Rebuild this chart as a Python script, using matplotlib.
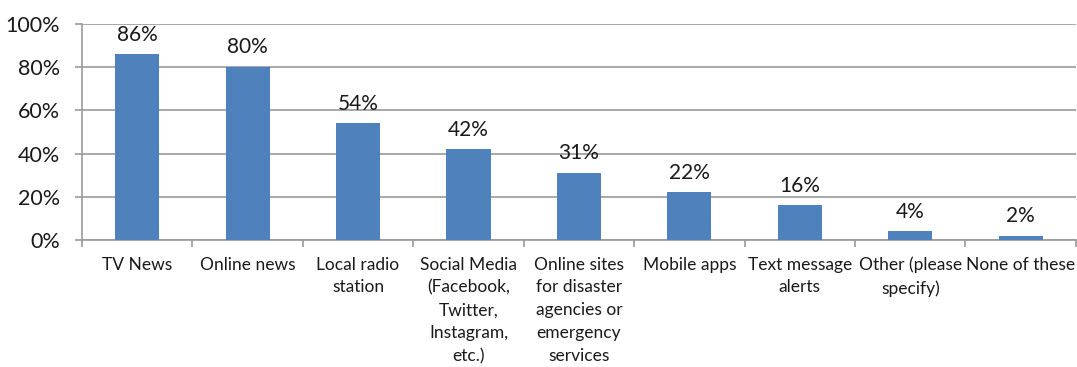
import numpy as np
import matplotlib
matplotlib.use("Agg")
import matplotlib.pyplot as plt

plt.rcParams['font.family'] = ['Lato', 'DejaVu Sans']

categories = ["TV News", "Online news", "Local radio\nstation",
              "Social Media\n(Facebook,\nTwitter,\nInstagram,\netc.)",
              "Online sites\nfor disaster\nagencies or\nemergency\nservices",
              "Mobile apps", "Text message\nalerts", "Other (please\nspecify)",
              "None of these"]
values = [86, 80, 54, 42, 31, 22, 16, 4, 2]
yticks = [0, 20, 40, 60, 80, 100]

fig = plt.figure(figsize=(10.77, 3.67), dpi=100)
ax = fig.add_axes([0.0761, 0.346, 0.9229, 0.5886])

x = np.arange(len(values))
ax.bar(x, values, width=0.4, color='#4F81BD', zorder=3)

# percentage above each bar
for xi, v in zip(x, values):
    ax.annotate(f"{v}%", (xi, v), xytext=(0, 7), textcoords='offset points',
                ha='center', va='bottom', fontsize=15, color='#1a1a1a')

ax.set_xlim(-0.5, len(values) - 0.5)
ax.set_ylim(0, 100)
ax.set_yticks(yticks)
ax.set_yticklabels([f"{t}%" for t in yticks], fontsize=15.5, color='#1a1a1a')
ax.yaxis.grid(True, color='#9A9A9A', linewidth=1.2, zorder=0)
ax.tick_params(axis='y', length=5, color='#9A9A9A', width=1.2, pad=11)

# category names under the bars, boundary tick marks in between
ax.set_xticks(x)
ax.set_xticklabels(categories, fontsize=12.5, color='#1a1a1a', linespacing=1.52)
ax.tick_params(axis='x', which='major', length=0, pad=12)
ax.set_xticks(np.arange(len(values) + 1) - 0.5, minor=True)
ax.tick_params(axis='x', which='minor', length=5, color='#9A9A9A', width=1.2)

for side in ['top', 'right']:
    ax.spines[side].set_visible(False)
for side in ['left', 'bottom']:
    ax.spines[side].set_color('#9A9A9A')
    ax.spines[side].set_linewidth(1.2)

fig.savefig("out.png", dpi=100)
